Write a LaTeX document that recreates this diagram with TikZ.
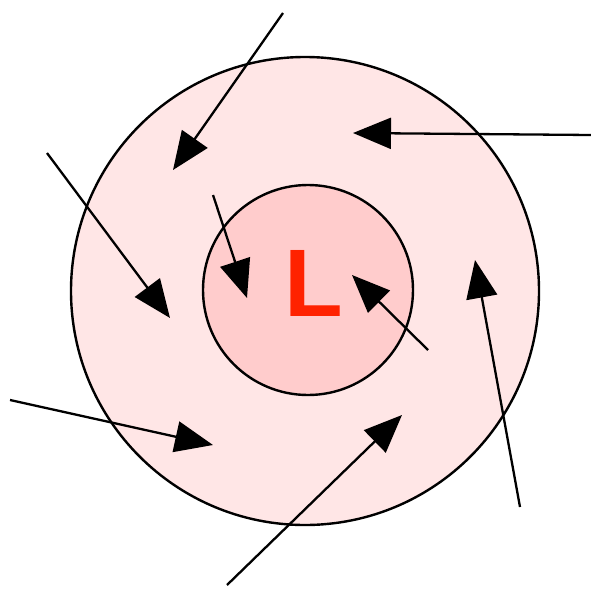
\documentclass[tikz,border=0pt]{standalone}
\usepackage{fontspec}
\setmainfont{Liberation Sans}
\usetikzlibrary{arrows.meta}
\definecolor{outerfill}{HTML}{FFE6E6}
\definecolor{innerfill}{HTML}{FFCCCC}
\definecolor{lowred}{HTML}{FF2200}
\tikzset{
  zone/.style={circle, draw=black, line width=2.4pt, inner sep=0pt},
  flow/.style={line width=2.3pt, -{Triangle[length=38pt,width=31pt]}, shorten >=0pt},
}
\begin{document}
\begin{tikzpicture}[x=1pt,y=-1pt]
\useasboundingbox (0,0) rectangle (591,589);
\node[zone, fill=outerfill, minimum size=468pt] (outer) at (305,291) {};
\node[zone, fill=innerfill, minimum size=210pt] (inner) at (308,290) {};
\node[text=lowred, font=\fontsize{96}{96}\selectfont\bfseries, inner sep=0pt] (L) at (314,283) {L};
% arrows: start / tip coordinates
\coordinate (a1s) at (283,13);  \coordinate (a1t) at (173,170);
\coordinate (a2s) at (591,135); \coordinate (a2t) at (353,133);
\coordinate (a3s) at (47,153);  \coordinate (a3t) at (170,318);
\coordinate (a4s) at (213,195); \coordinate (a4t) at (247,298);
\coordinate (a5s) at (428,350); \coordinate (a5t) at (352,275);
\coordinate (a6s) at (520,507); \coordinate (a6t) at (475,260);
\coordinate (a7s) at (10,400);  \coordinate (a7t) at (213,445);
\coordinate (a8s) at (227,585); \coordinate (a8t) at (402,415);
\foreach \i in {1,...,8} {\draw[flow] (a\i s) -- (a\i t);}
\end{tikzpicture}
\end{document}
